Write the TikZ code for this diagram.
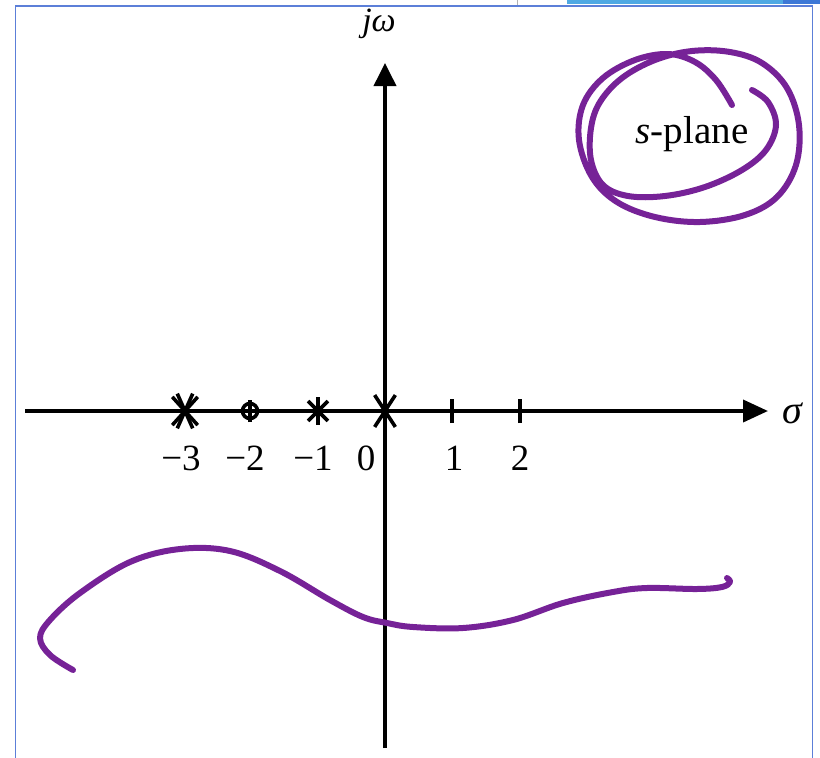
\documentclass[tikz,border=0pt]{standalone}
\usepackage{fontspec}
\setmainfont{Liberation Serif}
\usetikzlibrary{arrows.meta}
\definecolor{ink}{HTML}{762297}
\definecolor{frameblue}{HTML}{5C7FD8}
\definecolor{barlight}{HTML}{4FA9E3}
\definecolor{bardark}{HTML}{3D78D6}
\tikzset{
  axis/.style={line width=3.8pt, draw=black},
  mk/.style={line width=3.6pt, draw=black},
  pen/.style={line width=6pt, draw=ink, line cap=round, line join=round},
  lbl/.style={font=\fontsize{37}{37}\selectfont, inner sep=0pt},
}
\begin{document}
\begin{tikzpicture}[x=1pt,y=-1pt]
\useasboundingbox (0,0) rectangle (820,758);
% screenshot frame
\fill[barlight] (567,0) rectangle (783,3.5);
\fill[bardark] (783,0) rectangle (820,3.5);
\draw[gray!60, line width=0.8pt] (517,0) -- (517,5);
\draw[frameblue, line width=1.6pt] (15.5,760) -- (15.5,6) -- (812.5,6) -- (812.5,760);
% axes
\coordinate (xs) at (25,411);
\coordinate (xe) at (768,411);
\coordinate (ys) at (385,748);
\coordinate (ye) at (385,63);
\draw[axis, -{Triangle[length=25pt,width=22pt]}] (xs) -- (xe);
\draw[axis, -{Triangle[length=23pt,width=22pt]}] (ys) -- (ye);
\node[lbl, font=\fontsize{40}{40}\selectfont\itshape] (sig) at (792,413) {σ};
\node[lbl, font=\fontsize{34}{34}\selectfont\itshape] (jw) at (379,24) {jω};
% markers
\coordinate (pm3) at (185,411);
\coordinate (zm2) at (250,411);
\coordinate (pm1) at (318,411);
\coordinate (p0) at (385,411);
\coordinate (t1) at (452,411);
\coordinate (t2) at (520,411);
\foreach \a in {48,132,228,312,66,114,246,294}
  \draw[mk] (pm3) -- ++(\a:19);
\draw[mk] (zm2) circle (7.5);
\draw[mk] ([yshift=-11pt]zm2) -- ([yshift=11pt]zm2);
\foreach \a in {90,270,45,135,225,315}
  \draw[mk] (pm1) -- ++(\a:14);
\foreach \a in {57,123,237,303}
  \draw[mk] (p0) -- ++(\a:19);
\draw[mk] ([yshift=-12pt]t1) -- ([yshift=12pt]t1);
\draw[mk] ([yshift=-12pt]t2) -- ([yshift=12pt]t2);
% tick labels
\node[lbl] (lm3) at (181,458) {−3};
\node[lbl] (lm2) at (245,458) {−2};
\node[lbl] (lm1) at (313,458) {−1};
\node[lbl] (l0) at (366,458) {0};
\node[lbl] (l1) at (454,458) {1};
\node[lbl] (l2) at (520,458) {2};
% s-plane label
\node[lbl, font=\fontsize{39}{39}\selectfont] (sp) at (692,134) {\textit{s}-plane};
% hand-drawn circle
\draw[pen] plot[smooth, tension=0.6] coordinates {
 (752,90) (768,102) (776,125) (766,150) (742,170) (705,187) (665,196)
 (628,196) (603,185) (591,160) (591,128) (600,102) (622,78) (655,60)
 (692,51) (730,52) (762,63) (787,88) (799,125) (796,165) (777,197)
 (745,215) (700,222) (655,217) (617,202) (592,177) (579,140) (583,105)
 (603,78) (635,60) (668,54) (695,62) (716,80) (732,105)};
% hand-drawn wave
\draw[pen] plot[smooth, tension=0.6] coordinates {
 (73,670) (50,655) (40,638) (50,620) (80,593) (130,562) (180,549)
 (230,551) (280,571) (330,600) (363,617) (387,623) (413,627) (463,628)
 (513,620) (563,603) (613,592) (647,588) (697,589) (722,587) (730,582) (727,578)};
\end{tikzpicture}
\end{document}
